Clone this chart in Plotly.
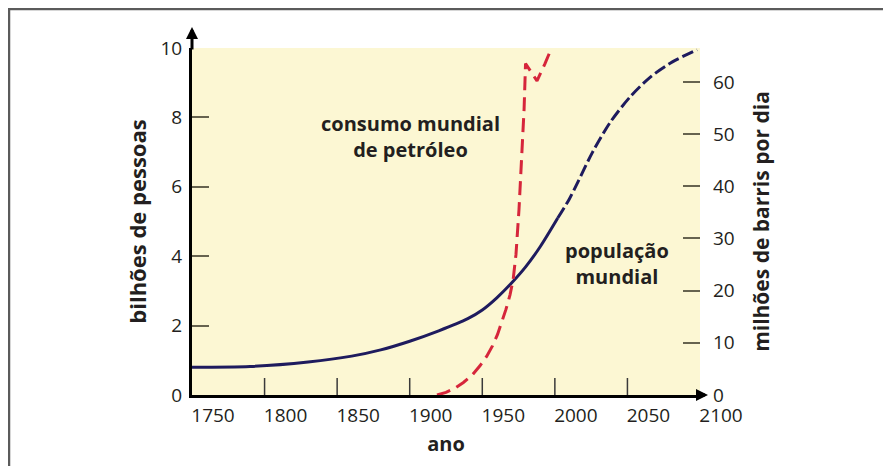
import plotly.graph_objects as go

# ---------------- data ----------------
pop_years_solid = [1750, 1790, 1830, 1860, 1880, 1900, 1920, 1940, 1950, 1960, 1970, 1980, 1990, 2002]
pop_vals_solid = [0.80, 0.82, 0.95, 1.12, 1.30, 1.55, 1.85, 2.20, 2.45, 2.80, 3.22, 3.70, 4.28, 5.10]
pop_years_proj = [2002, 2010, 2016, 2026, 2038, 2052, 2066, 2081, 2098]
pop_vals_proj = [5.10, 5.65, 6.15, 7.00, 7.85, 8.60, 9.17, 9.60, 9.95]

oil_years = [1918.8, 1925.0, 1931.0, 1937.0, 1943.0, 1948.4, 1953.0, 1957.0, 1960.5, 1963.5,
             1966.3, 1969.1, 1971.2, 1973.2, 1975.3, 1977.4, 1978.8, 1979.8, 1987.7, 1993.2, 1998.0]
oil_vals = [0, 0.5, 1.3, 2.4, 3.8, 5.6, 7.4, 9.4, 11.6, 13.9,
            16.4, 19.2, 22.0, 26.9, 35.6, 47.1, 54.8, 63.5, 60.2, 63.5, 66.7]

x_tick_vals = [1750, 1800, 1850, 1900, 1950, 2000, 2050, 2100]
x_tick_text = ["1750", "1800", "1850", "1900", "1950", "2000", "2050", "2100"]
x_mark_vals = [1800, 1850, 1900, 1950, 2000, 2050]
y_left_vals = [0, 2, 4, 6, 8, 10]
y_left_marks = [2, 4, 6, 8]
y_right_vals = [0, 10, 20, 30, 40, 50, 60]

label_oil = "consumo mundial<br>de petróleo"
label_pop = "população<br>mundial"

# ---------------- style ----------------
OFF = 8                      # default page body margin
W, H = 891 - OFF, 466 - OFF
L, R, T, B = 192 - OFF, 700 - OFF, 48 - OFF, 395 - OFF   # plot area in figure pixels
FONT = "Open Sans"
TXT = "#231f20"
NAVY = "#1e1b5e"
RED = "#d6263b"
BG = "#fcf7d3"
TICKC = "#66634f"
Y_RANGE = [0, 10]
TICK_LEN_PX = 17
tick_len_data = TICK_LEN_PX * (Y_RANGE[1] - Y_RANGE[0]) / (B - T)

fig = go.Figure()
fig.add_trace(go.Scatter(x=pop_years_solid, y=pop_vals_solid, mode="lines",
                         line=dict(color=NAVY, width=3, shape="spline", smoothing=0.8),
                         hoverinfo="skip", showlegend=False))
fig.add_trace(go.Scatter(x=pop_years_proj, y=pop_vals_proj, mode="lines",
                         line=dict(color=NAVY, width=3, dash="12px,4px", shape="spline", smoothing=0.8),
                         hoverinfo="skip", showlegend=False))
fig.add_trace(go.Scatter(x=oil_years, y=oil_vals, mode="lines", yaxis="y2",
                         line=dict(color=RED, width=3, dash="14px,7px"),
                         hoverinfo="skip", showlegend=False))

# inner tick marks of the year axis, built from the tick values
tx, ty = [], []
for v in x_mark_vals:
    tx += [v, v, None]
    ty += [Y_RANGE[0], Y_RANGE[0] + tick_len_data, None]
fig.add_trace(go.Scatter(x=tx, y=ty, mode="lines", line=dict(color="#3a3a3a", width=1.5),
                         hoverinfo="skip", showlegend=False))

# invisible helper so the overlay tick axis is drawn
fig.add_trace(go.Scatter(x=[1750], y=[0], xaxis="x", yaxis="y3", mode="markers",
                         marker=dict(opacity=0), hoverinfo="skip", showlegend=False))


def px_x(p):
    return (p - OFF - L) / (R - L)


def px_y(p):
    return (B - (p - OFF)) / (B - T)


fig.update_layout(
    width=W, height=H,
    margin=dict(l=L, r=W - R, t=T, b=H - B),
    paper_bgcolor="white", plot_bgcolor=BG,
    font=dict(family=FONT, color=TXT, size=19),
    xaxis=dict(range=[1750, 2100], tickvals=x_tick_vals, ticktext=x_tick_text,
               ticks="", showgrid=False, zeroline=False, showline=True,
               linecolor="black", linewidth=3, ticklabelshift=21, ticklabelstandoff=1,
               tickfont=dict(size=19), layer="above traces",
               title=dict(text="<b>ano</b>", font=dict(size=20), standoff=11)),
    yaxis=dict(range=Y_RANGE, tickvals=y_left_vals, ticks="", showgrid=False,
               zeroline=False, showline=True, linecolor="black", linewidth=3,
               ticklabelstandoff=3, tickfont=dict(size=19),
               title=dict(text="<b>bilhões de pessoas</b>", font=dict(size=22), standoff=8)),
    yaxis3=dict(overlaying="y", range=Y_RANGE, anchor="x", side="left",
                tickvals=y_left_marks, ticks="inside", ticklen=TICK_LEN_PX, tickwidth=1.5,
                tickcolor=TICKC, showticklabels=False, showgrid=False,
                zeroline=False, showline=False),
    yaxis2=dict(overlaying="y", side="right", anchor="x", range=[0, 66.5],
                tickvals=y_right_vals, ticks="inside", ticklen=TICK_LEN_PX, tickwidth=1.5,
                tickcolor=TICKC, showgrid=False, zeroline=False, showline=False,
                ticklabelstandoff=12, tickfont=dict(size=19),
                title=dict(text="<b>milhões de barris por dia</b>", font=dict(size=21), standoff=20)),
    annotations=[
        dict(x=1900.2, y=7.45, xref="x", yref="y", text="<b>" + label_oil + "</b>",
             showarrow=False, font=dict(size=20, color=TXT), align="center"),
        dict(x=2042.8, y=3.79, xref="x", yref="y", text="<b>" + label_pop + "</b>",
             showarrow=False, font=dict(size=20, color=TXT), align="center"),
        # axis arrows
        dict(x=0, y=px_y(27), xref="paper", yref="paper", ax=0, ay=24,
             showarrow=True, arrowhead=2, arrowsize=0.8, arrowwidth=3,
             arrowcolor="black", text=""),
        dict(x=px_x(708), y=0, xref="paper", yref="paper", ax=-12, ay=0,
             showarrow=True, arrowhead=2, arrowsize=0.8, arrowwidth=3,
             arrowcolor="black", text=""),
    ],
    shapes=[
        dict(type="line", xref="paper", yref="paper", x0=px_x(9), x1=px_x(9),
             y0=px_y(9), y1=px_y(480), line=dict(color="#5b5b5b", width=2.5)),
        dict(type="line", xref="paper", yref="paper", x0=px_x(8), x1=px_x(900),
             y0=px_y(9), y1=px_y(9), line=dict(color="#5b5b5b", width=2.5)),
    ],
)

fig.write_html("out.html")
